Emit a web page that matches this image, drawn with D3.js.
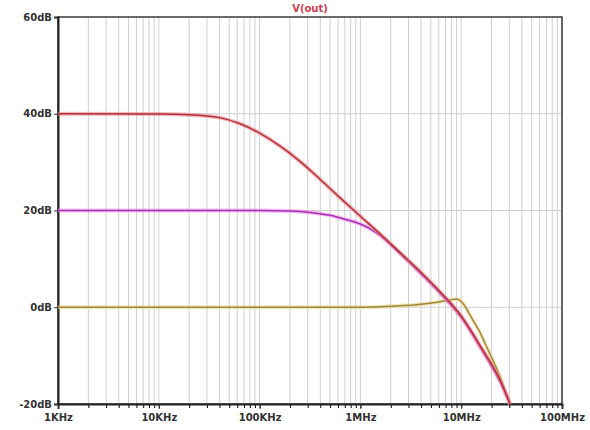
<!DOCTYPE html>
<html>
<head>
<meta charset="utf-8">
<script src="https://cdn.jsdelivr.net/npm/d3@7"></script>
<style>
body { margin: 0; background: #fff; }
svg text { font-family: "DejaVu Sans", sans-serif; }
</style>
</head>
<body>
<script>
var width = 590,
	height = 430;

// frequency (Hz) and gain (dB)
var redFreq = [1e3, 1e4, 20e3, 40e3, 63e3, 100e3, 160e3, 250e3, 400e3, 630e3, 1e6, 1.6e6, 2.5e6, 4e6, 6.3e6, 10e6, 16e6, 25e6, 30.5e6];
var redGain = [40, 39.95, 39.8, 39.2, 38.0, 36.0, 33.3, 30.2, 26.4, 22.6, 18.8, 15.0, 11.2, 7.2, 3.0, -1.8, -8.5, -15.6, -20];

var magFreq = [1e3, 1e4, 1e5, 200e3, 320e3, 500e3, 700e3, 1e6, 1.3e6, 1.6e6, 2.5e6, 4e6, 6.3e6, 10e6, 16e6, 25e6, 30.5e6];
var magGain = [20, 20, 20, 19.9, 19.6, 19.0, 18.2, 17.2, 16.0, 14.7, 11.0, 6.9, 2.7, -2.1, -8.8, -15.9, -20];

var goldFreq = [1e3, 1e4, 1e5, 1e6, 2e6, 4e6, 6e6, 7.7e6, 9e6, 10e6, 11e6, 12.2e6, 15e6, 18e6, 24.3e6, 30.5e6];
var goldGain = [0, 0, 0, 0, 0.2, 0.6, 1.1, 1.5, 1.7, 1.2, 0.1, -1.6, -4.8, -8.3, -14.4, -20];

var decades = [1e3, 1e4, 1e5, 1e6, 1e7, 1e8];
var decadeLabels = ["1KHz", "10KHz", "100KHz", "1MHz", "10MHz", "100MHz"];
var dbTicks = [60, 40, 20, 0, -20];

var x = d3.scaleLog()
	.domain([1e3, 1e8])
	.range([58, 562]);

var y = d3.scaleLinear()
	.domain([-20, 60])
	.range([404, 17]);

var svg = d3.select("body").append("svg")
	.attr("width", width)
	.attr("height", height);

// every 1..9 step inside each decade for the grid
var minors = [];
decades.slice(0, 5).forEach(function(d) {
	for (var k = 1; k < 10; k++) minors.push(d * k);
});
minors.push(1e8);

svg.append("g")
	.selectAll("line")
	.data(minors)
	.enter().append("line")
	.attr("x1", function(d) { return x(d); })
	.attr("x2", function(d) { return x(d); })
	.attr("y1", y(60))
	.attr("y2", y(-20))
	.attr("stroke", "#cfcfcf")
	.attr("stroke-width", 1);

svg.append("g")
	.selectAll("line")
	.data([40, 20, 0])
	.enter().append("line")
	.attr("x1", x(1e3))
	.attr("x2", x(1e8))
	.attr("y1", function(d) { return y(d); })
	.attr("y2", function(d) { return y(d); })
	.attr("stroke", "#cfcfcf")
	.attr("stroke-width", 1);

// frame
svg.append("rect")
	.attr("x", x(1e3))
	.attr("y", y(60))
	.attr("width", x(1e8) - x(1e3))
	.attr("height", y(-20) - y(60))
	.attr("fill", "none")
	.attr("stroke", "#3a3a3a")
	.attr("stroke-width", 1.5);

// minor ticks on bottom axis
svg.append("g")
	.attr("transform", "translate(0," + y(-20) + ")")
	.call(d3.axisBottom(x).tickValues(minors).tickSize(4).tickFormat(""))
	.call(function(g) { g.select(".domain").remove(); });

var xAxis = svg.append("g")
	.attr("transform", "translate(0," + y(-20) + ")")
	.call(d3.axisBottom(x)
		.tickValues(decades)
		.tickSize(5)
		.tickPadding(5)
		.tickFormat(function(d, i) { return decadeLabels[i]; }));

var yAxis = svg.append("g")
	.attr("transform", "translate(" + x(1e3) + ",0)")
	.call(d3.axisLeft(y)
		.tickValues(dbTicks)
		.tickSize(4)
		.tickPadding(2)
		.tickFormat(function(d) { return d + "dB"; }));

[xAxis, yAxis].forEach(function(g) {
	g.select(".domain").attr("stroke", "#222").attr("stroke-width", 2);
	g.selectAll(".tick line").attr("stroke", "#333");
	g.selectAll("text")
		.attr("fill", "#333")
		.style("font-size", "10px")
		.style("font-weight", "bold");
});

svg.append("text")
	.attr("x", 310)
	.attr("y", 12)
	.attr("text-anchor", "middle")
	.attr("fill", "#d23c50")
	.style("font-size", "10px")
	.style("font-weight", "bold")
	.text("V(out)");

var line = d3.line()
	.x(function(d) { return x(d[0]); })
	.y(function(d) { return y(d[1]); })
	.curve(d3.curveMonotoneX);

var series = [
	{ freq: goldFreq, gain: goldGain, color: "#a08838", glow: "#e8d890" },
	{ freq: magFreq, gain: magGain, color: "#a830b8", glow: "#f090e8" },
	{ freq: redFreq, gain: redGain, color: "#b0303c", glow: "#f08890" }
];

series.forEach(function(s) {
	var pts = s.freq.map(function(f, i) { return [f, s.gain[i]]; });
	svg.append("path")
		.datum(pts)
		.attr("fill", "none")
		.attr("stroke", s.glow)
		.attr("stroke-opacity", 0.6)
		.attr("stroke-width", 4)
		.attr("d", line);
	svg.append("path")
		.datum(pts)
		.attr("fill", "none")
		.attr("stroke", s.color)
		.attr("stroke-width", 1.5)
		.attr("d", line);
});
</script>
</body>
</html>
